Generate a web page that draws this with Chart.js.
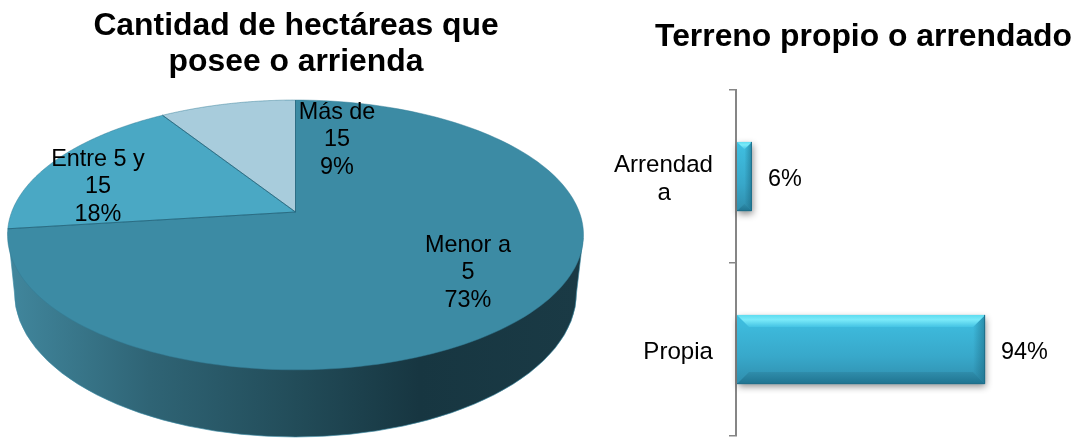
<!DOCTYPE html>
<html><head><meta charset="utf-8">
<style>
html,body{margin:0;padding:0;background:#fff;width:1074px;height:439px;overflow:hidden}
.b{position:absolute;top:0;height:439px}
#l{left:0;width:592px}
#r{left:600px;width:472px}
</style>
<script src="https://cdn.jsdelivr.net/npm/chart.js@4/dist/chart.umd.min.js"></script>
</head><body>
<div class="b" id="l"><canvas id="pie"></canvas></div>
<div class="b" id="r"><canvas id="bar"></canvas></div>
<script>
const pieCategories = ["Menor a 5", "Entre 5 y 15", "Más de 15"];
const pieValues = [73, 18, 9];
const pieLabelLines = [["Menor a", "5"], ["Entre 5 y", "15"], ["Más de", "15"]];
const pieColors = ["#3c8ba4", "#4aa8c4", "#a8ccdc"];
const barCategories = ["Arrendada", "Propia"];
const barValues = [6, 94];
const FONT = '"Liberation Sans", Arial, sans-serif';

/* perspective view of the disc */
const P = {cx: 295.5, cy: 212, rx: 283.8, ry: 131, k: 0.17};
const project = (a) => {
  const u = Math.cos(a), v = Math.sin(a), w = 1 - P.k * v;
  return [P.cx + P.rx * u / w, P.cy + P.ry * v / w];
};
const labelCentres = [[468, 273], [98, 187], [337, 140]];

const pie3d = {
  id: 'pie3d',
  beforeDatasetDraw(chart, args) {
    const ctx = chart.ctx, arcs = args.meta.data;
    ctx.save();
    // wall of the disc
    const g = ctx.createLinearGradient(15, 0, 576, 0);
    g.addColorStop(0, '#40859b');
    g.addColorStop(0.24, '#2f6475');
    g.addColorStop(0.5, '#224c59');
    g.addColorStop(0.72, '#173641');
    g.addColorStop(1, '#1a3a45');
    ctx.beginPath();
    ctx.moveTo(8, 232);
    ctx.lineTo(14.5, 293);
    ctx.ellipse(295.5, 293, 281, 144, 0, Math.PI, 0, true);
    ctx.lineTo(583, 238);
    ctx.closePath();
    ctx.fillStyle = g;
    ctx.fill();
    ctx.strokeStyle = 'rgba(60,139,164,0.8)';
    ctx.lineWidth = 0.8;
    ctx.stroke();
    // top face, from the arc elements' own angles
    arcs.forEach((arc, i) => {
      const p = arc.getProps(['startAngle', 'endAngle'], true);
      ctx.beginPath();
      ctx.moveTo(P.cx, P.cy);
      const steps = 160;
      for (let s = 0; s <= steps; s++) {
        const [x, y] = project(p.startAngle + (p.endAngle - p.startAngle) * s / steps);
        ctx.lineTo(x, y);
      }
      ctx.closePath();
      ctx.fillStyle = pieColors[i];
      ctx.fill();
      ctx.strokeStyle = 'rgba(50,125,150,0.6)';
      ctx.lineWidth = 0.8;
      ctx.stroke();
    });
    // dividing lines between the slices
    ctx.strokeStyle = 'rgba(35,100,122,0.9)';
    ctx.lineWidth = 0.9;
    arcs.forEach((arc) => {
      const a = arc.getProps(['startAngle'], true).startAngle;
      const [x, y] = project(a);
      ctx.beginPath();
      ctx.moveTo(P.cx, P.cy);
      ctx.lineTo(x, y);
      ctx.stroke();
    });
    // labels
    ctx.fillStyle = '#000';
    ctx.font = '23.4px ' + FONT;
    ctx.textAlign = 'center';
    ctx.textBaseline = 'middle';
    arcs.forEach((arc, i) => {
      const lines = pieLabelLines[i].concat(pieValues[i] + '%');
      const [x, y] = labelCentres[i];
      lines.forEach((t, n) => ctx.fillText(t, x, y + (n - 1) * 27.5));
    });
    ctx.restore();
    return false;
  }
};

const bevelBars = {
  id: 'bevelBars',
  beforeDraw(chart) {
    chart.scales.y.getLabelItems().forEach((it) => {
      if (!it.nudged) {
        it.options.translation = [it.options.translation[0], it.options.translation[1] + 3];
        it.nudged = true;
      }
    });
  },
  beforeDatasetDraw(chart, args) {
    const ctx = chart.ctx;
    args.meta.data.forEach((el, i) => {
      const p = el.getProps(['x', 'y', 'base', 'height'], true);
      const l = p.base + 1, r = p.x, t = p.y - p.height / 2, b = p.y + p.height / 2;
      const w = r - l, h = b - t;
      const d = Math.min(12, w / 2);
      const body = ctx.createLinearGradient(0, t, 0, b);
      body.addColorStop(0, '#3fc0e2');
      body.addColorStop(0.6, '#38a8ca');
      body.addColorStop(1, '#2f8dac');
      ctx.save();
      ctx.shadowColor = 'rgba(0,0,0,0.45)';
      ctx.shadowBlur = 7;
      ctx.shadowOffsetX = 1;
      ctx.shadowOffsetY = 3;
      ctx.fillStyle = body;
      ctx.fillRect(l, t, w, h);
      ctx.restore();
      const poly = (pts, fill) => {
        ctx.beginPath();
        pts.forEach((q, n) => n ? ctx.lineTo(q[0], q[1]) : ctx.moveTo(q[0], q[1]));
        ctx.closePath();
        ctx.fillStyle = fill;
        ctx.fill();
      };
      const topG = ctx.createLinearGradient(0, t, 0, t + d);
      topG.addColorStop(0, '#5fdcf0');
      topG.addColorStop(0.4, '#7aeaf9');
      topG.addColorStop(1, '#45c4e4');
      const botG = ctx.createLinearGradient(0, b - d, 0, b);
      botG.addColorStop(0, '#2f8dab');
      botG.addColorStop(1, '#1f7390');
      const rG = ctx.createLinearGradient(r - d, 0, r, 0);
      rG.addColorStop(0, 'rgba(25,100,125,0)');
      rG.addColorStop(1, 'rgba(25,100,125,0.55)');
      poly([[r, t], [r - d, t + d], [r - d, b - d], [r, b]], rG);
      poly([[l, t], [r, t], [r - d, t + d], [l + d, t + d]], topG);
      poly([[l, b], [r, b], [r - d, b - d], [l + d, b - d]], botG);
      ctx.strokeStyle = '#1f6f8a';
      ctx.lineWidth = 1;
      ctx.beginPath();
      ctx.moveTo(r - 0.5, t); ctx.lineTo(r - 0.5, b - 0.5); ctx.lineTo(l, b - 0.5);
      ctx.stroke();
      ctx.fillStyle = '#000';
      ctx.font = '23.4px ' + FONT;
      ctx.textAlign = 'left';
      ctx.textBaseline = 'middle';
      ctx.fillText(barValues[i] + '%', r + 16, p.y + 3);
    });
    return false;
  }
};

new Chart(document.getElementById('pie'), {
  type: 'pie',
  data: {labels: pieCategories, datasets: [{data: pieValues, backgroundColor: pieColors}]},
  plugins: [pie3d],
  options: {
    responsive: true, maintainAspectRatio: false, animation: false,
    plugins: {
      legend: {display: false}, tooltip: {enabled: false},
      title: {
        display: true, text: ["Cantidad de hectáreas que", "posee o arrienda"],
        color: '#000', font: {family: FONT, size: 31.85, weight: 'bold', lineHeight: 1.13},
        padding: {top: 8, bottom: 4}
      }
    }
  }
});

new Chart(document.getElementById('bar'), {
  type: 'bar',
  data: {labels: barCategories, datasets: [{data: barValues, backgroundColor: '#3aa6c6',
    barPercentage: 0.8, categoryPercentage: 0.5}]},
  plugins: [bevelBars],
  options: {
    indexAxis: 'y',
    responsive: true, maintainAspectRatio: false, animation: false,
    layout: {padding: {bottom: 3}},
    scales: {
      x: {display: false, min: 0, max: 126.8},
      y: {
        afterFit(s) { s.width = 136; s.paddingTop = 0; s.paddingBottom = 0; },
        grid: {drawOnChartArea: false, color: '#868686', tickLength: 7, lineWidth: 1.5, offset: true},
        border: {color: '#868686', width: 2},
        ticks: {
          color: '#000', padding: 16, font: {family: FONT, size: 24.1, lineHeight: 1.15},
          callback(v, i) {
            const s = barCategories[i];
            return s.length > 8 ? [s.slice(0, 8), s.slice(8) + '\u00a0'.repeat(6) + '\u200a'] : s;
          }
        }
      }
    },
    plugins: {
      legend: {display: false}, tooltip: {enabled: false},
      title: {
        display: true, text: "Terreno propio o arrendado", align: 'end',
        color: '#000', font: {family: FONT, size: 31.85, weight: 'bold', lineHeight: 1.15},
        padding: {top: 19, bottom: 34.4}
      }
    }
  }
});
</script>
</body></html>
